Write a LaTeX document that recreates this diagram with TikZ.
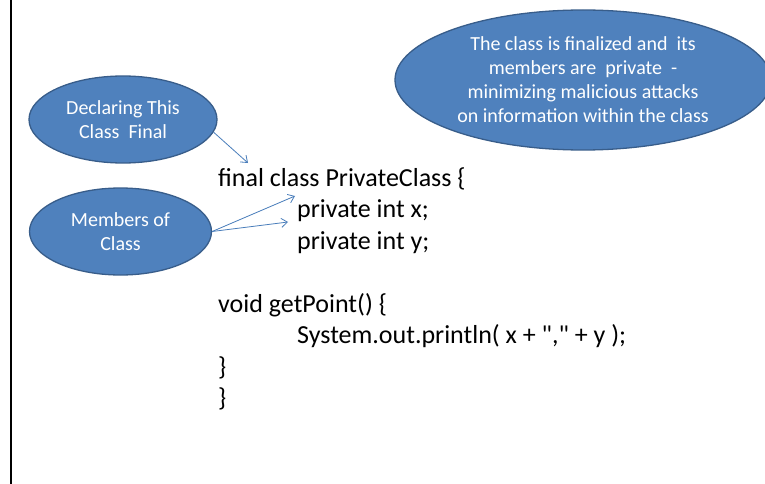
\documentclass[tikz,border=0pt]{standalone}
\usepackage{fontspec}
\setmainfont{Carlito}
\newfontfamily\codefont{Carlito}[Ligatures=TeXOff]
\usetikzlibrary{arrows.meta,shapes.geometric}
\definecolor{ellfill}{HTML}{4F81BD}
\definecolor{elldraw}{HTML}{385D8A}
\definecolor{arrowc}{HTML}{4A7EBB}
\begin{document}
\begin{tikzpicture}[x=1pt,y=-1pt,
  bubble/.style={ellipse, fill=ellfill, draw=elldraw, line width=1.3pt,
    inner sep=0pt, text=white, align=center,
    font=\fontsize{20}{24}\selectfont},
  code/.style={anchor=base west, inner sep=0pt, font=\codefont\fontsize{26}{31.5}\selectfont},
  callout/.style={draw=arrowc, line width=0.8pt,
    -{Straight Barb[length=6pt,width=9pt]}}]
\fill[white] (0,0) rectangle (765,484);
\useasboundingbox (0,0) rectangle (765,484);
\draw[line width=2.5pt] (11,-2) -- (11,486);

\node[bubble, minimum width=188pt, minimum height=87pt] (decl) at (123,119.5)
  {Declaring This\\Class\ \ Final};
\node[bubble, minimum width=182pt, minimum height=87pt] (mem) at (120.5,231.5)
  {Members of\\Class};
\node[bubble, minimum width=376pt, minimum height=140pt] (note) at (583,80)
  {The class is finalized and\ \ its\\members are\ \ private\ \ -\\minimizing malicious attacks\\on information within the class};

\node[code] (l1) at (218,186) {final class PrivateClass \{};
\node[code] (l2) at (297,217.5) {private int x;};
\node[code] (l3) at (297,249) {private int y;};
\node[code] (l4) at (218,312) {void getPoint() \{};
\node[code] (l5) at (297,343.5) {System.out.println( x + "," + y );};
\node[code] (l6) at (218,375) {\}};
\node[code] (l7) at (218,406.5) {\}};

\coordinate (t1) at (248,163);
\coordinate (t2) at (295,196);
\coordinate (t3) at (288,222);
\draw[callout] (decl.-8.5) -- (t1);
\draw[callout] (mem.east) -- (t2);
\draw[callout] (mem.east) -- (t3);
\end{tikzpicture}
\end{document}
